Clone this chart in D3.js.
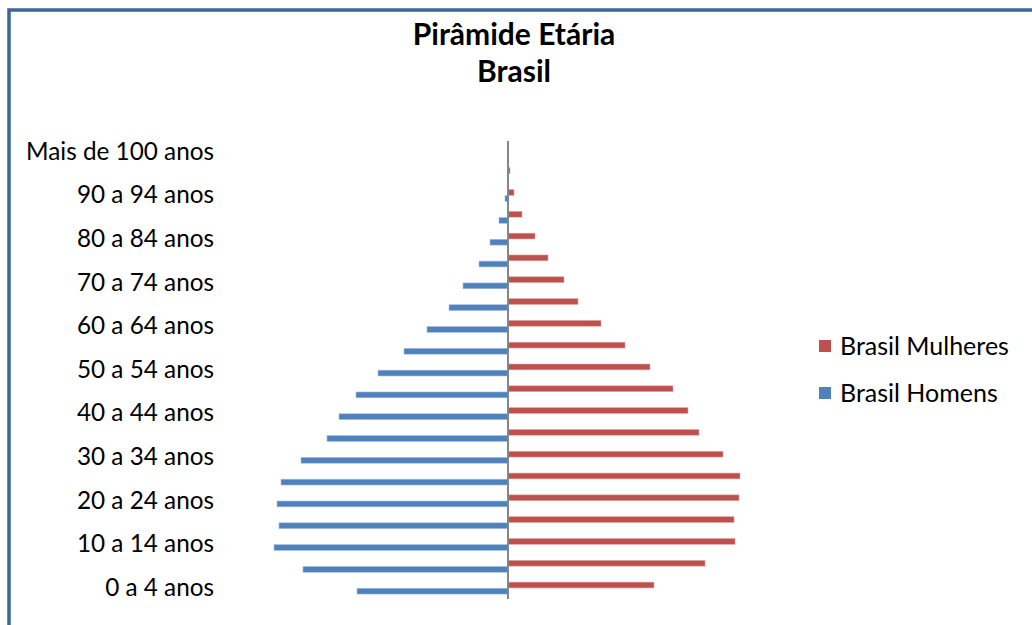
<!DOCTYPE html>
<html>
<head>
<meta charset="utf-8">
<script src="https://cdn.jsdelivr.net/npm/d3@7"></script>
<style>
body { margin: 0; background: #fff; }
text { font-family: Lato, "Open Sans", sans-serif; fill: #000; }
</style>
</head>
<body>
<div id="vizContainer"></div>
<script>
// faixas etarias, de baixo para cima
var faixas = ["0 a 4 anos", "5 a 9 anos", "10 a 14 anos", "15 a 19 anos", "20 a 24 anos",
    "25 a 29 anos", "30 a 34 anos", "35 a 39 anos", "40 a 44 anos", "45 a 49 anos",
    "50 a 54 anos", "55 a 59 anos", "60 a 64 anos", "65 a 69 anos", "70 a 74 anos",
    "75 a 79 anos", "80 a 84 anos", "85 a 89 anos", "90 a 94 anos", "95 a 99 anos",
    "Mais de 100 anos"];

// valores (unidade arbitraria)
var homens = [151, 205, 234, 229, 231, 227, 207, 181, 169, 152,
    130, 104, 81, 59, 45, 29, 18, 9, 3, 0.8, 0.3];
var mulheres = [146, 197, 227, 226, 231, 232, 215, 191, 180, 165,
    142, 117, 93, 70, 56, 40, 27, 14, 6, 2, 0.6];

// so metade das faixas aparece no eixo
var rotulos = ["0 a 4 anos", "10 a 14 anos", "20 a 24 anos", "30 a 34 anos", "40 a 44 anos",
    "50 a 54 anos", "60 a 64 anos", "70 a 74 anos", "80 a 84 anos", "90 a 94 anos",
    "Mais de 100 anos"];

var series = ["Brasil Mulheres", "Brasil Homens"];
var cores = ["#C0504D", "#4F81BD"];

var width = 1032, height = 625;

var svg = d3.select('#vizContainer').append('svg')
    .attr('width', width)
    .attr('height', height)
    .attr('viewBox', '0 0 ' + width + ' ' + height);

// moldura do grafico (sai da imagem a direita e embaixo)
svg.append('rect')
    .attr('x', 9).attr('y', 10)
    .attr('width', 1100).attr('height', 700)
    .attr('fill', 'none')
    .attr('stroke', '#3d6699')
    .attr('stroke-width', 3.5);

// titulo
var titulo = svg.append('text')
    .attr('x', 514)
    .attr('text-anchor', 'middle')
    .style('font-weight', 'bold')
    .style('font-size', '30px');
titulo.append('tspan').attr('x', 514).attr('y', 45).text('Pirâmide Etária');
titulo.append('tspan').attr('x', 514).attr('y', 82).text('Brasil');

var x = d3.scaleLinear().domain([-250, 250]).range([258, 758]);
var y = d3.scaleBand().domain(faixas).range([599, 141]);
var ySerie = d3.scaleBand().domain(series).range([0, y.bandwidth()])
    .paddingInner(0.05).paddingOuter(0.8);

var dados = faixas.map(function(f, i) {
    return { faixa: f, homens: homens[i], mulheres: mulheres[i] };
});

// barras das mulheres (direita)
svg.append('g').selectAll('rect')
    .data(dados).enter().append('rect')
    .attr('x', x(0))
    .attr('y', function(d) { return y(d.faixa) + ySerie(series[0]); })
    .attr('width', function(d) { return x(d.mulheres) - x(0); })
    .attr('height', ySerie.bandwidth())
    .attr('fill', cores[0])
    .attr('stroke', '#e2a9a7')
    .attr('stroke-width', 0.6);

// barras dos homens (esquerda)
svg.append('g').selectAll('rect')
    .data(dados).enter().append('rect')
    .attr('x', function(d) { return x(-d.homens); })
    .attr('y', function(d) { return y(d.faixa) + ySerie(series[1]); })
    .attr('width', function(d) { return x(0) - x(-d.homens); })
    .attr('height', ySerie.bandwidth())
    .attr('fill', cores[1])
    .attr('stroke', '#a9c0dd')
    .attr('stroke-width', 0.6);

// eixo zero
svg.append('line')
    .attr('x1', x(0)).attr('x2', x(0))
    .attr('y1', y.range()[1]).attr('y2', y.range()[0])
    .attr('stroke', '#868686')
    .attr('stroke-width', 2);

// rotulos das faixas, encostados na esquerda
var eixo = svg.append('g')
    .attr('transform', 'translate(214,0)')
    .call(d3.axisLeft(y).tickValues(rotulos).tickSize(0).tickPadding(0));
eixo.select('.domain').remove();
eixo.selectAll('text')
    .style('font-family', 'Lato, "Open Sans", sans-serif')
    .style('font-size', '24.3px')
    .attr('fill', '#000');

// legenda
var legenda = svg.append('g').selectAll('g')
    .data(series).enter().append('g')
    .attr('transform', function(d, i) { return 'translate(819,' + (346 + i * 47) + ')'; });
legenda.append('rect')
    .attr('x', 0).attr('y', -6)
    .attr('width', 12).attr('height', 12)
    .attr('fill', function(d, i) { return cores[i]; });
legenda.append('text')
    .attr('x', 21).attr('dy', '0.35em')
    .style('font-size', '25px')
    .text(function(d) { return d; });
</script>
</body>
</html>
